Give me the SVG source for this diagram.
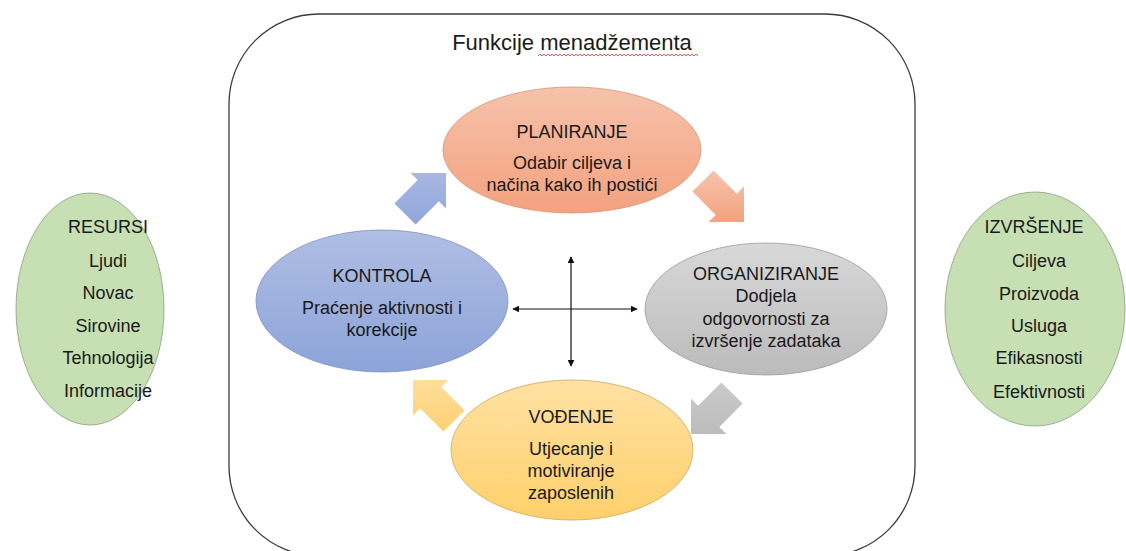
<svg xmlns="http://www.w3.org/2000/svg" width="1126" height="551" viewBox="0 0 1126 551">
<style>
text{font-family:"Liberation Sans",Arial,sans-serif;font-size:18px;fill:#1a1a1a;text-anchor:middle}
.title{font-size:22px}
.frame{fill:none;stroke:#3a3a3a;stroke-width:1.3}
.green{fill:#C6E0B4;stroke:#8C9C84;stroke-width:0.8}
.cross{stroke:#111;stroke-width:1.2;fill:none;marker-start:url(#ah);marker-end:url(#ah)}
</style>
<defs>
<linearGradient id="gP" x1="0" y1="0" x2="0" y2="1"><stop offset="0" stop-color="#F6C2AB"/><stop offset="1" stop-color="#F3A27F"/></linearGradient>
<linearGradient id="gK" x1="0" y1="0" x2="0" y2="1"><stop offset="0" stop-color="#B0BEE3"/><stop offset="1" stop-color="#8CA3D9"/></linearGradient>
<linearGradient id="gO" x1="0" y1="0" x2="0" y2="1"><stop offset="0" stop-color="#D8D8D8"/><stop offset="1" stop-color="#BBBBBB"/></linearGradient>
<linearGradient id="gV" x1="0" y1="0" x2="0" y2="1"><stop offset="0" stop-color="#FEE1A3"/><stop offset="1" stop-color="#FFD06C"/></linearGradient>
<linearGradient id="aK" x1="0" y1="0" x2="0" y2="1"><stop offset="0" stop-color="#A9B8E1"/><stop offset="1" stop-color="#8FA5DA"/></linearGradient>
<linearGradient id="aP" x1="0" y1="0" x2="0" y2="1"><stop offset="0" stop-color="#F6C4AE"/><stop offset="1" stop-color="#F3A27F"/></linearGradient>
<linearGradient id="aO" x1="0" y1="0" x2="0" y2="1"><stop offset="0" stop-color="#CACACA"/><stop offset="1" stop-color="#BCBCBC"/></linearGradient>
<linearGradient id="aV" x1="0" y1="0" x2="0" y2="1"><stop offset="0" stop-color="#FEDE9C"/><stop offset="1" stop-color="#FDCF72"/></linearGradient>
<marker id="ah" viewBox="0 0 10 10" refX="9" refY="5" markerWidth="7" markerHeight="7" markerUnits="userSpaceOnUse" orient="auto-start-reverse">
<path d="M0,0 L10,5 L0,10 Z" fill="#111"/>
</marker>
</defs>

<g id="frame">
<rect class="frame" x="229" y="14" width="686" height="542" rx="90" ry="90"/>
<text class="title" x="572" y="50">Funkcije menadžementa</text>
<path d="M538,56 l2,-2 l2,2 l2,-2 l2,2 l2,-2 l2,2 l2,-2 l2,2 l2,-2 l2,2 l2,-2 l2,2 l2,-2 l2,2 l2,-2 l2,2 l2,-2 l2,2 l2,-2 l2,2 l2,-2 l2,2 l2,-2 l2,2 l2,-2 l2,2 l2,-2 l2,2 l2,-2 l2,2 l2,-2 l2,2 l2,-2 l2,2 l2,-2 l2,2 l2,-2 l2,2 l2,-2 l2,2 l2,-2 l2,2 l2,-2 l2,2 l2,-2 l2,2 l2,-2 l2,2 l2,-2 l2,2 l2,-2 l2,2 l2,-2 l2,2 l2,-2 l2,2 l2,-2 l2,2 l2,-2 l2,2 l2,-2 l2,2 l2,-2 l2,2 l2,-2 l2,2 l2,-2 l2,2 l2,-2 l2,2 l2,-2 l2,2 l2,-2 l2,2 l2,-2 l2,2 l2,-2 l2,2 l2,-2 l2,2" fill="none" stroke="#E03030" stroke-width="0.8"/>
</g>

<g id="resursi">
<ellipse class="green" cx="90" cy="309" rx="74" ry="116"/>
<text x="108" y="233">RESURSI</text>
<text x="108" y="267">Ljudi</text>
<text x="108" y="299">Novac</text>
<text x="108" y="332">Sirovine</text>
<text x="108" y="364">Tehnologija</text>
<text x="108" y="397">Informacije</text>
</g>

<g id="izvrsenje">
<ellipse class="green" cx="1035" cy="309" rx="90" ry="117"/>
<text x="1034" y="233">IZVRŠENJE</text>
<text x="1039" y="267">Ciljeva</text>
<text x="1039" y="300">Proizvoda</text>
<text x="1039" y="332">Usluga</text>
<text x="1039" y="364">Efikasnosti</text>
<text x="1039" y="398">Efektivnosti</text>
</g>

<g id="planiranje">
<ellipse cx="572" cy="150" rx="129" ry="63" fill="url(#gP)" stroke="#D2957A" stroke-width="0.8"/>
<text x="572" y="138">PLANIRANJE</text>
<text x="572" y="169">Odabir ciljeva i</text>
<text x="572" y="191">načina kako ih postići</text>
</g>

<g id="kontrola">
<ellipse cx="382" cy="301" rx="126" ry="71" fill="url(#gK)" stroke="#7E90C0" stroke-width="0.8"/>
<text x="382" y="282">KONTROLA</text>
<text x="382" y="314">Praćenje aktivnosti i</text>
<text x="382" y="336">korekcije</text>
</g>

<g id="organiziranje">
<ellipse cx="766" cy="309" rx="121" ry="66" fill="url(#gO)" stroke="#9A9A9A" stroke-width="0.8"/>
<text x="766" y="280">ORGANIZIRANJE</text>
<text x="766" y="302">Dodjela</text>
<text x="766" y="325">odgovornosti za</text>
<text x="766" y="347">izvršenje zadataka</text>
</g>

<g id="vodjenje">
<ellipse cx="572" cy="450" rx="121" ry="70" fill="url(#gV)" stroke="#C9A862" stroke-width="0.8"/>
<text x="571" y="423">VOĐENJE</text>
<text x="571" y="455">Utjecanje i</text>
<text x="571" y="477">motiviranje</text>
<text x="571" y="499">zaposlenih</text>
</g>

<g id="connectors">
<polygon fill="url(#aK)" points="446,173 410.6,173 417.7,180.1 394.4,203.4 415.6,224.6 438.9,201.3 446,208.4"/>
<polygon fill="url(#aP)" points="744,222 744,186.6 736.9,193.7 713.6,170.4 692.4,191.6 715.7,214.9 708.6,222"/>
<polygon fill="url(#aO)" points="691,434 726.4,434 719.3,426.9 742.6,403.6 721.4,382.4 698.1,405.7 691,398.6"/>
<polygon fill="url(#aV)" points="413,380 413,415.4 420.1,408.3 443.4,431.6 464.6,410.4 441.3,387.1 448.4,380"/>
<line class="cross" x1="571" y1="257" x2="571" y2="366"/>
<line class="cross" x1="513" y1="309" x2="637" y2="309"/>
</g>
</svg>
